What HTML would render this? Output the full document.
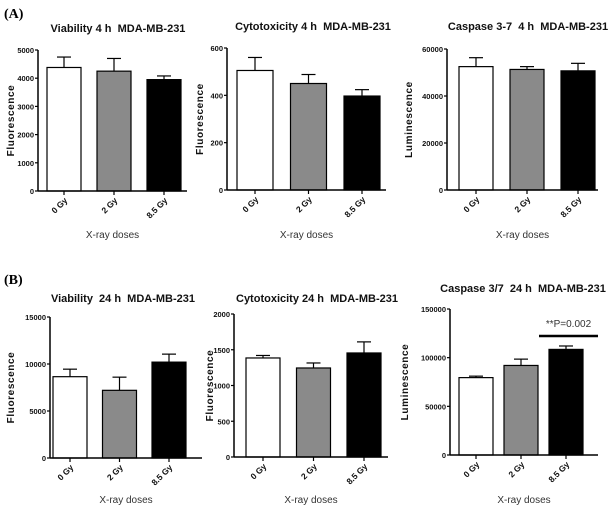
<!DOCTYPE html>
<html><head><meta charset="utf-8"><style>
html,body{margin:0;padding:0;background:#fff;}
svg{display:block;}
.t{font-family:"Liberation Sans",sans-serif;font-weight:bold;fill:#111;}
.tt{font-family:"Liberation Sans Narrow","Liberation Sans",sans-serif;font-weight:bold;fill:#111;white-space:pre;}
.xt{font-family:"Liberation Sans",sans-serif;fill:#333;}
.pl{font-family:"Liberation Serif",serif;font-weight:bold;fill:#000;}
</style></head><body>
<svg id="fig" width="610" height="516" viewBox="0 0 610 516" xmlns="http://www.w3.org/2000/svg">
<text class="pl" x="4" y="18" font-size="14">(A)</text>
<text class="pl" x="4" y="284" font-size="14">(B)</text>
</svg>
<script>
const categories = ["0 Gy", "2 Gy", "8.5 Gy"];
const titles = ["Viability 4 h  MDA-MB-231","Cytotoxicity 4 h  MDA-MB-231","Caspase 3-7  4 h  MDA-MB-231","Viability  24 h  MDA-MB-231","Cytotoxicity 24 h  MDA-MB-231","Caspase 3/7  24 h  MDA-MB-231"];
const yTitles = ["Fluorescence","Fluorescence","Luminescence","Fluorescence","Fluorescence","Luminescence"];
const yMax = [5000, 600, 60000, 15000, 2000, 150000];
const tickLabels = [[0,1000,2000,3000,4000,5000],[0,200,400,600],[0,20000,40000,60000],[0,5000,10000,15000],[0,500,1000,1500,2000],[0,50000,100000,150000]];
const means = [[4380,4250,3950],[505,450,397],[52500,51300,50700],[8650,7200,10200],[1385,1245,1455],[79500,92000,108500]];
const errs = [[370,450,130],[55,38,27],[3800,1200,3200],[800,1400,850],[35,70,155],[1500,6500,3500]];
const sigText = "**P=0.002";
const fills = ["#fff","#8a8a8a","#000"];
const L = [
 {ax:38,top:50,bot:191,end:187,b0:47,p:50,bw:34,yt:14,tc:118,ty:32,xl:238},
 {ax:227,top:48,bot:190,end:386,b0:237,p:53.5,bw:36,yt:203,tc:313,ty:30,xl:238},
 {ax:447,top:49,bot:190,end:598,b0:459,p:51,bw:34,yt:412,tc:528,ty:30,xl:238},
 {ax:50,top:317,bot:458,end:202,b0:53,p:49.5,bw:34,yt:14,tc:123,ty:302,xl:503},
 {ax:234,top:314,bot:457,end:388,b0:246,p:50.5,bw:34,yt:213,tc:317,ty:302,xl:503},
 {ax:450,top:309,bot:455,end:598,b0:459,p:45,bw:34,yt:408,tc:523,ty:292,xl:503}
];
const svg = document.getElementById('fig');
const NS = "http://www.w3.org/2000/svg";
function mk(tag, attrs, parent){const e=document.createElementNS(NS,tag);for(const k in attrs)e.setAttribute(k,attrs[k]);(parent||svg).appendChild(e);return e;}
for(let i=0;i<6;i++){
  const c=L[i];
  const g=mk('g',{});
  
  
  const y=v=>c.bot-(v/yMax[i])*(c.bot-c.top);
  const t=mk('text',{class:'tt',x:c.tc,y:c.ty,'font-size':11,'text-anchor':'middle'},g);t.textContent=titles[i];
  
  
  const yl=mk('text',{class:'t',x:c.yt,y:(c.top+c.bot)/2,'font-size':10,'text-anchor':'middle',transform:`rotate(-90 ${c.yt} ${(c.top+c.bot)/2})`,'letter-spacing':'0.6'},g);yl.textContent=yTitles[i];
  
  
  const xl=mk('text',{class:'xt',x:(c.ax+c.end)/2,y:c.xl,'font-size':10,'text-anchor':'middle'},g);xl.textContent="X-ray doses";
  
  
  tickLabels[i].forEach(v=>{
    const yy=y(v);
    mk('line',{x1:c.ax-3,x2:c.ax,y1:yy,y2:yy,stroke:'#000','stroke-width':1.2},g);
    const tt=mk('text',{class:'t',x:c.ax-4,y:yy+3,'font-size':7.5,'text-anchor':'end'},g);tt.textContent=v;
    
    
  });
  for(let j=0;j<3;j++){
    const bx=c.b0+j*c.p, cx=bx+c.bw/2, yt=y(means[i][j]), ye=y(means[i][j]+errs[i][j]);
    mk('line',{x1:cx,x2:cx,y1:yt,y2:ye,stroke:'#000','stroke-width':1.2},g);
    mk('line',{x1:cx-7,x2:cx+7,y1:ye,y2:ye,stroke:'#000','stroke-width':1.2},g);
    const r=mk('rect',{x:bx,y:yt,width:c.bw,height:c.bot-yt,fill:fills[j],stroke:'#000','stroke-width':1.2},g);
    
    
    mk('line',{x1:cx,x2:cx,y1:c.bot,y2:c.bot+4,stroke:'#000','stroke-width':1.2},g);
    const xt=mk('text',{class:'t',x:cx+4,y:c.bot+10,'font-size':8.5,'text-anchor':'end',transform:`rotate(-45 ${cx+4} ${c.bot+10})`},g);xt.textContent=categories[j];
    
    
  }
  mk('line',{x1:c.ax,x2:c.ax,y1:c.top,y2:c.bot,stroke:'#000','stroke-width':1.5},g);
  mk('line',{x1:c.ax,x2:c.end,y1:c.bot,y2:c.bot,stroke:'#000','stroke-width':1.5},g);
  if(i===5){
    const bx=c.b0+2*c.p;
    const sl=mk('line',{x1:bx-10,x2:c.end,y1:336,y2:336,stroke:'#000','stroke-width':2.5},g);
    
    
    const st=mk('text',{class:'xt',x:(bx-10+c.end)/2,y:327,'font-size':10,'text-anchor':'middle'},g);st.textContent=sigText;
    
    
  }
}
</script>
</body></html>
